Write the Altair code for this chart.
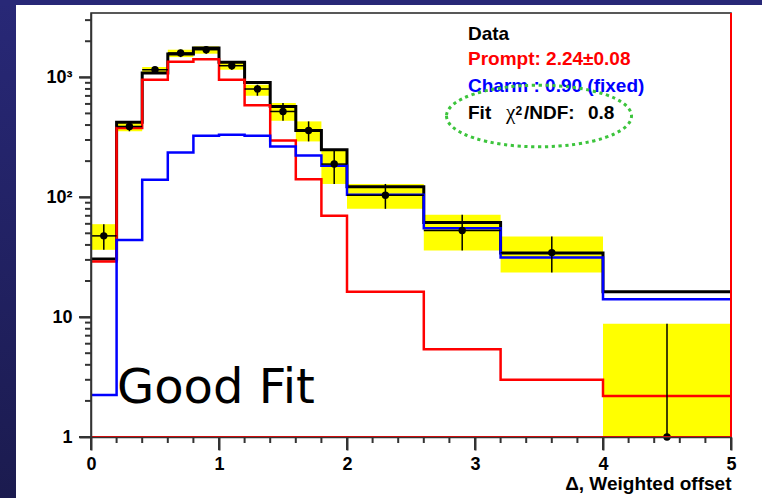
import altair as alt
import pandas as pd

# Bin edges of the weighted-offset histogram
edges = [0.0, 0.2, 0.4, 0.6, 0.8, 1.0, 1.2, 1.4, 1.6, 1.8, 2.0, 2.6, 3.2, 4.0, 5.0]

# Fit components per bin
total_fit = [30.6, 421, 1087, 1565, 1757, 1333, 907, 571, 360, 249, 122, 61.5, 34.2, 16.3]
prompt = [29.1, 377, 955, 1350, 1413, 955, 585, 297, 141, 70, 16.3, 5.4, 3.0, 2.2]
charm = [2.24, 44, 140, 236, 326, 332, 326, 265, 223, 183, 105, 55.2, 31.4, 14.1]

# Data points with their uncertainty band
data_vals = [47.6, 389, 1157, 1596, 1700, 1250, 799, 519, 360, 189, 104, 52.7, 34.5, 1.0]
err_lo = [36.4, 355, 1072, 1475, 1574, 1157, 702, 434, 292, 129, 80, 35.9, 23.5, 1.0]
err_hi = [59.6, 420, 1219, 1700, 1811, 1358, 867, 611, 429, 249, 129, 71.3, 47, 8.8]

x_major = [0, 1, 2, 3, 4, 5]
x_minor = [0.2, 0.4, 0.6, 0.8, 1.2, 1.4, 1.6, 1.8, 2.2, 2.4, 2.6, 2.8,
           3.2, 3.4, 3.6, 3.8, 4.2, 4.4, 4.6, 4.8]
y_major = [1, 10, 100, 1000]
y_minor = [2, 3, 4, 5, 6, 7, 8, 9, 20, 30, 40, 50, 60, 70, 80, 90,
           200, 300, 400, 500, 600, 700, 800, 900, 2000, 3000]
y_max = 3440

W, H = 640, 424
FONT = "Liberation Sans"
TICK = "#333333"

bins = pd.DataFrame({
    "lo": edges[:-1],
    "hi": edges[1:],
    "mid": [(a + b) / 2 for a, b in zip(edges[:-1], edges[1:])],
    "n": data_vals,
    "elo": err_lo,
    "ehi": err_hi,
})


def step_frame(vals):
    return pd.DataFrame({"x": edges, "y": list(vals) + [vals[-1]]})


xs = alt.Scale(domain=[0, 5], nice=False, zero=False)
ys = alt.Scale(type="log", domain=[1, y_max], nice=False)

# Labelled axes with long major ticks; short minor ticks are added as rule layers
x_axis = alt.Axis(
    values=x_major, ticks=True, tickSize=13, tickColor=TICK, tickWidth=2,
    title="Δ, Weighted offset", format="d",
    labelPadding=5, labelFlush=False, labelOverlap=False,
    titleAnchor="end", titleAlign="right", titleBaseline="alphabetic",
    titleX=W, titleY=52, zindex=1,
)
y_axis = alt.Axis(
    values=y_major, ticks=True, tickSize=12, tickColor=TICK, tickWidth=2, title="",
    labelExpr="datum.value == 100 ? '10²' : datum.value == 1000 ? '10³' : format(datum.value, 'd')",
    labelPadding=7, labelFlush=False, labelOverlap=False, zindex=1,
)


def X(f):
    return alt.X(f, scale=xs, axis=x_axis)


def Y(f):
    return alt.Y(f, scale=ys, axis=y_axis)


# Slide border strips (left and top)
one = pd.DataFrame({"k": [0]})
left_strip = alt.Chart(one).mark_rect(
    color=alt.Gradient(
        gradient="linear",
        stops=[alt.GradientStop(color="#282877", offset=0),
               alt.GradientStop(color="#1b1b4f", offset=1)],
        x1=0, x2=0, y1=0, y2=1,
    )
).encode(x=alt.value(-91), x2=alt.value(-75), y=alt.value(-13), y2=alt.value(H + 61))
top_strip = alt.Chart(one).mark_rect(color="#282877").encode(
    x=alt.value(-91), x2=alt.value(W + 31), y=alt.value(-13), y2=alt.value(-8)
)


# Outward tick marks drawn outside the frame
def x_ticks(vals, length):
    return alt.Chart(pd.DataFrame({"v": vals})).mark_rule(
        color=TICK, strokeWidth=2, clip=False
    ).encode(x=X("v:Q"), y=alt.value(H), y2=alt.value(H + length))


def y_ticks(vals, length):
    return alt.Chart(pd.DataFrame({"v": vals})).mark_rule(
        color=TICK, strokeWidth=2, clip=False
    ).encode(y=Y("v:Q"), x=alt.value(-length), x2=alt.value(0))


ticks = [x_ticks(x_major, 13), x_ticks(x_minor, 6), y_ticks(y_major, 12), y_ticks(y_minor, 6)]

bands = alt.Chart(bins).mark_rect(color="#ffff00").encode(
    x=X("lo:Q"), x2="hi", y=Y("elo:Q"), y2="ehi"
)


def hist(vals, color, width):
    return alt.Chart(step_frame(vals)).mark_line(
        interpolate="step-after", color=color, strokeWidth=width
    ).encode(x=X("x:Q"), y=Y("y:Q"))


h_total = hist(total_fit, "black", 3)
h_prompt = hist(prompt, "#ff0000", 2.5)
h_charm = hist(charm, "#0000ff", 2.5)

xerr = alt.Chart(bins).mark_rule(color="black", strokeWidth=1.5, clip=False).encode(
    x=X("lo:Q"), x2="hi", y=Y("n:Q")
)
yerr = alt.Chart(bins).mark_rule(color="black", strokeWidth=1.5).encode(
    x=X("mid:Q"), y=Y("elo:Q"), y2="ehi"
)
points = alt.Chart(bins).mark_circle(color="black", opacity=1, size=55, clip=False).encode(
    x=X("mid:Q"), y=Y("n:Q")
)

# Prompt template closing edges
red_edge = alt.Chart(pd.DataFrame({"x": [5], "a": [1], "b": [y_max]})).mark_rule(
    color="#ff0000", strokeWidth=2, clip=False
).encode(x=X("x:Q"), y=Y("a:Q"), y2="b")
red_base = alt.Chart(pd.DataFrame({"a": [0], "b": [5], "y": [1]})).mark_rule(
    color="#ff0000", strokeWidth=2, clip=False
).encode(x=X("a:Q"), x2="b", y=Y("y:Q"))


def label(text, x, y, color="black", size=19, weight="bold", font=FONT):
    return alt.Chart(pd.DataFrame({"t": [text]})).mark_text(
        align="left", baseline="alphabetic", font=font, fontSize=size,
        fontWeight=weight, color=color,
    ).encode(text="t:N", x=alt.value(x), y=alt.value(y))


legend = [
    label("Data", 377, 27),
    label("Prompt: 2.24±0.08", 377, 52, color="#ff0000"),
    label("Charm : 0.90 (fixed)", 377, 78.7, color="#0000ff"),
    label("Fit", 377, 106.3),
    label("χ", 415, 106.3, weight="normal", font="Liberation Serif", size=21),
    label("2", 424.5, 102, size=12),
    label("/NDF:", 433, 106.3),
    label("0.8", 497, 106.3),
]

ellipse = alt.Chart(one).mark_point(
    shape="M-1,0A1,0.333,0,1,0,1,0A1,0.333,0,1,0,-1,0",
    filled=False, stroke="#3cc43c", strokeWidth=3, strokeDash=[3.2, 3.6], opacity=1,
    size=185 ** 2,
).encode(x=alt.value(448), y=alt.value(103))

good_fit = label("Good Fit", 26, 390, size=48, weight="normal", font="DejaVu Sans")

chart = alt.layer(
    left_strip, top_strip, *ticks, bands, h_total, h_prompt, h_charm, xerr, yerr, points,
    red_base, red_edge, *legend, ellipse, good_fit,
).properties(
    width=W, height=H,
    autosize=alt.AutoSizeParams(type="none"),
    padding={"left": 91, "top": 13, "right": 31, "bottom": 61},
    background="white",
).configure_view(
    stroke="#222222", strokeWidth=1.5
).configure_axis(
    grid=False,
    domainColor="#333333",
    domainWidth=1.5,
    labelFont=FONT,
    labelFontWeight="bold",
    labelFontSize=18,
    labelColor="black",
    titleFont=FONT,
    titleFontWeight="bold",
    titleFontSize=19,
    titleColor="black",
)

chart.save("out.html", embed_options={"renderer": "svg", "actions": False})
